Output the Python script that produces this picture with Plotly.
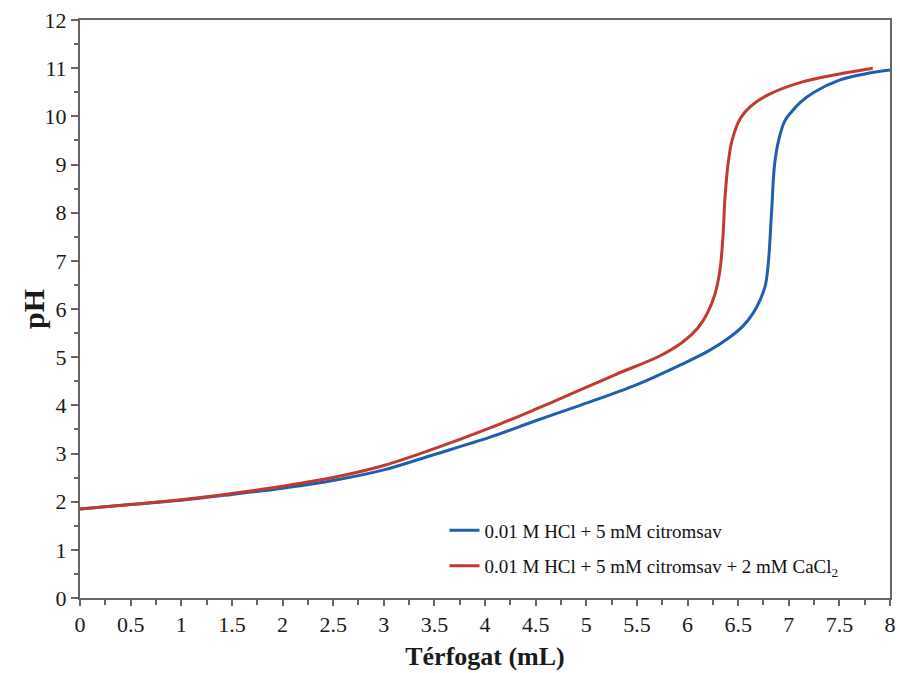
import plotly.graph_objects as go

blue_x = [0, 0.5, 1.0, 1.5, 2.0, 2.5, 3.0, 3.5, 4.05, 4.5, 4.94, 5.5, 5.93, 6.2, 6.42, 6.55, 6.65,
          6.72, 6.77, 6.80, 6.83, 6.86, 6.90, 6.96, 7.03, 7.12, 7.25, 7.5, 7.75, 8.0]
blue_y = [1.85, 1.94, 2.03, 2.15, 2.28, 2.44, 2.66, 2.98, 3.34, 3.68, 4.0, 4.43, 4.84, 5.12, 5.42, 5.65, 5.92,
          6.2, 6.5, 7.0, 8.0, 9.0, 9.5, 9.9, 10.1, 10.3, 10.5, 10.75, 10.88, 10.96]

red_x = [0, 0.5, 1.0, 1.5, 2.0, 2.5, 3.0, 3.5, 4.05, 4.5, 4.94, 5.3, 5.73, 5.95, 6.1, 6.2,
         6.27, 6.32, 6.35, 6.37, 6.40, 6.44, 6.52, 6.62, 6.8, 7.11, 7.5, 7.83]
red_y = [1.85, 1.94, 2.04, 2.17, 2.32, 2.5, 2.75, 3.1, 3.53, 3.92, 4.32, 4.65, 5.03, 5.31, 5.6, 5.93,
         6.3, 6.8, 7.5, 8.3, 9.0, 9.5, 9.95, 10.2, 10.45, 10.7, 10.88, 11.0]

name_blue = "0.01 M HCl + 5 mM citromsav"
name_red = "0.01 M HCl + 5 mM citromsav + 2 mM CaCl<sub>2</sub>"

x_ticks = [0, 0.5, 1, 1.5, 2, 2.5, 3, 3.5, 4, 4.5, 5, 5.5, 6, 6.5, 7, 7.5, 8]
y_ticks = list(range(0, 13))

font = "Liberation Serif, Times New Roman, serif"
axis_col = "#6b6262"

fig = go.Figure()
fig.add_trace(go.Scatter(x=blue_x, y=blue_y, mode="lines", name=name_blue,
                         line=dict(color="#1f5fae", width=3, shape="spline", smoothing=1.0),
                         legendgroup="a"))
fig.add_trace(go.Scatter(x=red_x, y=red_y, mode="lines", name=name_red,
                         line=dict(color="#c23a2e", width=3, shape="spline", smoothing=1.0),
                         legendgroup="b"))

fig.add_annotation(text="<b>pH</b>", xref="paper", yref="paper", x=-0.058, y=0.5,
                   xanchor="center", yanchor="middle", textangle=-90, showarrow=False,
                   font=dict(family=font, size=30, color="#1a1a1a"))

fig.update_layout(
    width=900, height=673,
    margin=dict(l=80, r=10, t=20, b=75),
    paper_bgcolor="white", plot_bgcolor="white",
    font=dict(family=font, color="#1a1a1a", size=22),
    showlegend=True,
    legend=dict(x=0.45, y=0.15, xanchor="left", yanchor="top",
                font=dict(family=font, size=19, color="#111111"),
                bgcolor="rgba(0,0,0,0)", tracegroupgap=8, traceorder="grouped"),
    xaxis=dict(range=[0, 8], tickvals=x_ticks, ticktext=[str(v) for v in x_ticks], automargin=False,
               showgrid=False, zeroline=False, showline=True, linecolor=axis_col, linewidth=2,
               mirror=True, ticks="outside", ticklen=6, tickcolor=axis_col, tickwidth=2,
               minor=dict(ticks="outside", dtick=0.25, ticklen=5, tickcolor=axis_col, tickwidth=2),
               tickfont=dict(family=font, size=22),
               title=dict(text="<b>Térfogat (mL)</b>", font=dict(family=font, size=26), standoff=10)),
    yaxis=dict(range=[0, 12], tickvals=y_ticks, ticktext=[str(v) for v in y_ticks], automargin=False,
               showgrid=False, zeroline=False, showline=True, linecolor=axis_col, linewidth=2,
               mirror=True, ticks="outside", ticklen=7, tickcolor=axis_col, tickwidth=2,
               minor=dict(ticks="outside", dtick=0.5, ticklen=4, tickcolor=axis_col, tickwidth=2),
               tickfont=dict(family=font, size=22)),
)

fig.write_html("out.html")
